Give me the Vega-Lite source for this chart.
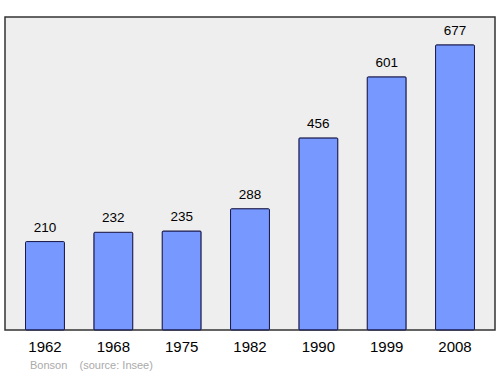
{
  "$schema": "https://vega.github.io/schema/vega-lite/v6.json",
  "width": 490,
  "height": 313,
  "autosize": "none",
  "padding": {"left": 5, "top": 17, "right": 5, "bottom": 44},
  "background": "white",
  "view": {"fill": "#eeeeee", "stroke": "#333333", "strokeWidth": 1.5},
  "title": {
    "text": "Bonson\u00a0\u00a0\u00a0\u00a0(source: Insee)",
    "orient": "bottom",
    "anchor": "start",
    "dx": 25,
    "offset": 6,
    "font": "Liberation Sans",
    "fontSize": 11,
    "fontWeight": "normal",
    "color": "#aaaaaa"
  },
  "data": {
    "values": [
      {"year": "1962", "pop": 210},
      {"year": "1968", "pop": 232},
      {"year": "1975", "pop": 235},
      {"year": "1982", "pop": 288},
      {"year": "1990", "pop": 456},
      {"year": "1999", "pop": 601},
      {"year": "2008", "pop": 677}
    ]
  },
  "encoding": {
    "x": {
      "field": "year",
      "type": "ordinal",
      "scale": {"paddingInner": 0.43, "paddingOuter": 0.3},
      "axis": {
        "title": null,
        "labelAngle": 0,
        "domain": false,
        "ticks": false,
        "labelPadding": 9,
        "labelFont": "Liberation Sans",
        "labelFontSize": 15,
        "labelColor": "#000000"
      }
    },
    "y": {
      "field": "pop",
      "type": "quantitative",
      "scale": {"domain": [0, 743], "nice": false},
      "axis": null
    }
  },
  "layer": [
    {
      "mark": {"type": "bar", "color": "#7799ff", "stroke": "#1a1a4d", "strokeWidth": 1, "cornerRadius": 1}
    },
    {
      "mark": {"type": "text", "baseline": "bottom", "dy": -7, "font": "Liberation Sans", "fontSize": 13.5, "color": "#000000"},
      "encoding": {"text": {"field": "pop", "type": "quantitative"}}
    }
  ]
}
